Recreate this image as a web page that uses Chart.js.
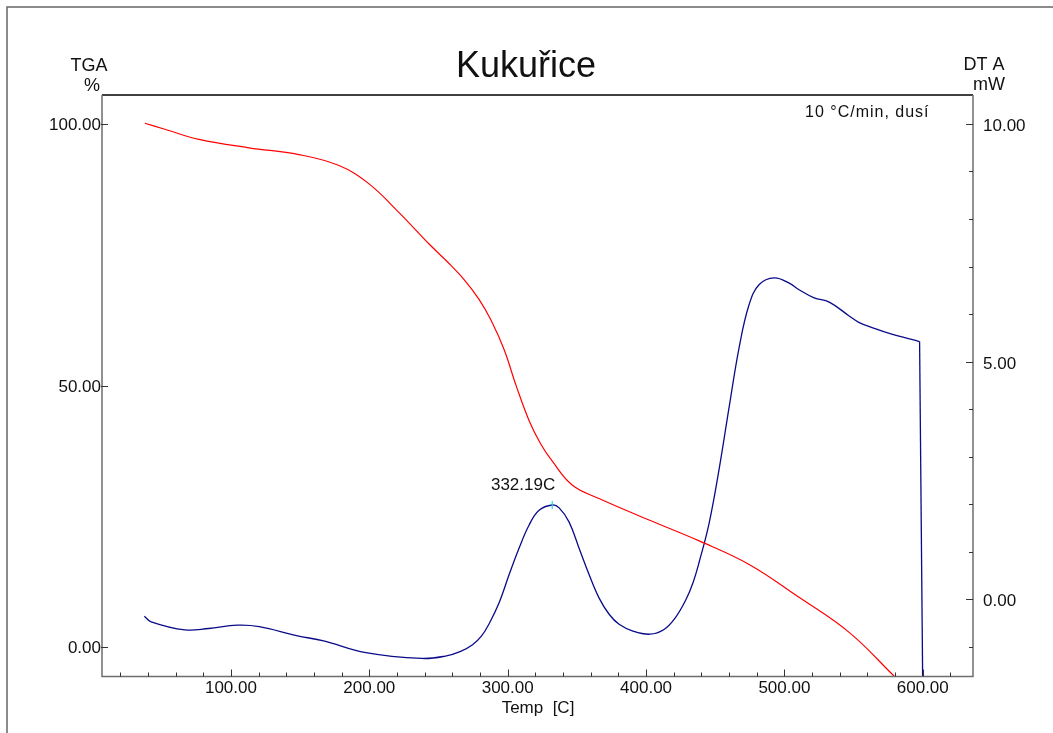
<!DOCTYPE html>
<html>
<head>
<meta charset="utf-8">
<script src="https://cdn.jsdelivr.net/npm/chart.js@4.4.1/dist/chart.umd.min.js"></script>
<style>
  html, body { margin: 0; padding: 0; background: #fff; }
  #wrap { width: 1053px; height: 733px; }
</style>
</head>
<body>
<div id="wrap"><canvas id="tgaChart" width="1053" height="733"></canvas></div>
<script>
/* ---------- data ---------- */
// TGA (red), temperature [C] -> mass [%]
const tgaTemp = [37.8, 51.6, 55.2, 76.9, 113.0, 149.2, 178.1, 199.8, 221.5, 243.2, 256.0, 268.5, 279.3, 288.0, 297.4, 306.1, 315.5, 324.0, 332.1, 346.6, 366.0, 402.2, 438.4, 474.5, 510.6, 546.8, 579.4];
const tgaMass = [100.2, 99.1, 98.8, 97.1, 95.5, 94.2, 92.1, 88.6, 83.1, 77.1, 73.8, 70.3, 66.5, 62.5, 56.9, 50.0, 43.3, 38.8, 35.6, 31.0, 28.4, 24.3, 20.3, 15.8, 9.5, 2.8, -5.6];

// DTA (navy), temperature [C] -> signal [mW]; the last point is the end-of-run drop
const dtaTemp = [37.4, 42.3, 66.7, 83.9, 104.6, 120.5, 147.4, 167.0, 196.4, 238.0, 255.0, 266.0, 274.6, 281.0, 286.6, 293.8, 301.0, 308.2, 315.5, 322.7, 332.19, 337.2, 344.4, 351.6, 358.9, 366.1, 373.3, 380.5, 391.0, 402.9, 413.0, 421.0, 428.7, 434.0, 438.4, 445.6, 452.9, 460.1, 467.3, 474.5, 481.8, 492.6, 503.5, 510.6, 521.5, 532.4, 546.8, 554.1, 564.9, 575.8, 597.7, 599.9];
const dtaSignal = [-0.36, -0.48, -0.65, -0.62, -0.55, -0.58, -0.77, -0.88, -1.12, -1.25, -1.20, -1.10, -0.96, -0.78, -0.52, -0.08, 0.51, 1.07, 1.56, 1.87, 1.98, 1.92, 1.62, 1.07, 0.51, 0.02, -0.32, -0.53, -0.68, -0.74, -0.64, -0.40, -0.02, 0.35, 0.78, 1.60, 2.75, 4.05, 5.30, 6.20, 6.62, 6.76, 6.65, 6.51, 6.34, 6.25, 5.96, 5.82, 5.70, 5.59, 5.42, -1.63];

const peakTemp = 332.19;
const peakLabel = '332.19C';

// axes
const xMajor = [100, 200, 300, 400, 500, 600];
const xLabels = ['100.00', '200.00', '300.00', '400.00', '500.00', '600.00'];
const tgaTicks = [0, 50, 100];
const tgaLabels = ['0.00', '50.00', '100.00'];
const dtaTicks = [0, 5, 10];
const dtaLabels = ['0.00', '5.00', '10.00'];

const FONT = '"Liberation Sans", Arial, Helvetica, sans-serif';

/* ---------- frame, ticks and texts ---------- */
const thermoFrame = {
  id: 'thermoFrame',
  beforeDraw(chart) {
    const c = chart.ctx;
    c.save();
    c.fillStyle = '#fff';
    c.fillRect(0, 0, chart.width, chart.height);
    // outer page frame
    c.strokeStyle = '#666';
    c.lineWidth = 1.5;
    c.beginPath();
    c.moveTo(7, 740); c.lineTo(7, 7); c.lineTo(1060, 7);
    c.stroke();
    c.restore();
  },
  afterDraw(chart) {
    const c = chart.ctx;
    const a = chart.chartArea;
    const xs = chart.scales.x, yl = chart.scales.y, yr = chart.scales.y2;
    c.save();

    // plot box
    c.lineWidth = 1.5;
    c.strokeStyle = '#000';
    c.beginPath(); c.moveTo(a.left, a.top); c.lineTo(a.right, a.top); c.stroke();
    c.strokeStyle = '#6e6e6e';
    c.beginPath();
    c.moveTo(a.left, a.top); c.lineTo(a.left, a.bottom); c.lineTo(a.right, a.bottom); c.lineTo(a.right, a.top);
    c.stroke();

    // x ticks (inward)
    c.strokeStyle = '#333';
    c.lineWidth = 1;
    for (let t = 20; t <= 620; t += 20) {
      const px = Math.round(xs.getPixelForValue(t)) + 0.5;
      const major = t % 100 === 0;
      c.beginPath(); c.moveTo(px, a.bottom); c.lineTo(px, a.bottom - (major ? 7 : 4)); c.stroke();
    }
    // left ticks
    tgaTicks.forEach(v => {
      const py = Math.round(yl.getPixelForValue(v)) + 0.5;
      c.beginPath(); c.moveTo(a.left - 1, py); c.lineTo(a.left + 6, py); c.stroke();
    });
    // right ticks
    for (let v = -1; v <= 10; v++) {
      const py = Math.round(yr.getPixelForValue(v)) + 0.5;
      const major = v % 5 === 0;
      c.beginPath(); c.moveTo(a.right, py); c.lineTo(a.right - (major ? 7 : 4), py); c.stroke();
    }

    // tick labels
    c.fillStyle = '#111';
    c.font = '17px ' + FONT;
    c.textBaseline = 'alphabetic';
    c.textAlign = 'center';
    xMajor.forEach((t, i) => c.fillText(xLabels[i], xs.getPixelForValue(t), 693));
    c.textAlign = 'right';
    tgaTicks.forEach((v, i) => c.fillText(tgaLabels[i], a.left - 1, yl.getPixelForValue(v) + 6));
    c.textAlign = 'left';
    dtaTicks.forEach((v, i) => c.fillText(dtaLabels[i], a.right + 10, yr.getPixelForValue(v) + 7));

    // axis titles
    c.textAlign = 'center';
    c.fillText('Temp  [C]', 538, 713);
    c.font = '18px ' + FONT;
    c.fillText('TGA', 89, 71);
    c.fillText('%', 92, 91);
    c.fillText('DT A', 984, 70);
    c.fillText('mW', 989, 90);

    // title
    c.font = '36px ' + FONT;
    c.fillText('Kukuřice', 526, 77);

    // conditions note
    c.font = '16px ' + FONT;
    c.textAlign = 'left';
    c.letterSpacing = '1px';
    c.fillText('10 °C/min, dusí', 805, 117);
    c.letterSpacing = '0px';

    // peak marker
    const pxp = xs.getPixelForValue(peakTemp);
    const idx = dtaTemp.indexOf(peakTemp);
    const pyp = yr.getPixelForValue(dtaSignal[idx]);
    c.strokeStyle = '#20d8e8';
    c.lineWidth = 1.2;
    c.beginPath(); c.moveTo(pxp, pyp - 4); c.lineTo(pxp, pyp + 4); c.stroke();
    c.font = '17px ' + FONT;
    c.textAlign = 'right';
    c.fillStyle = '#111';
    c.fillText(peakLabel, pxp + 3, pyp - 15);

    c.restore();
  }
};

const toPoints = (xsArr, ysArr) => xsArr.map((x, i) => ({ x, y: ysArr[i] }));
const dtaPoints = toPoints(dtaTemp, dtaSignal);

new Chart(document.getElementById('tgaChart'), {
  type: 'line',
  data: {
    datasets: [
      { label: 'TGA', data: toPoints(tgaTemp, tgaMass), yAxisID: 'y', borderColor: '#ff0000', borderWidth: 1.2, pointRadius: 0, fill: false, tension: 0.4 },
      { label: 'DTA', data: dtaPoints.slice(0, -1), yAxisID: 'y2', borderColor: '#0a0a8a', borderWidth: 1.3, pointRadius: 0, fill: false, tension: 0.4 },
      { label: 'DTA end', data: dtaPoints.slice(-2), yAxisID: 'y2', borderColor: '#0a0a8a', borderWidth: 1.3, pointRadius: 0, fill: false, tension: 0 },
    ],
  },
  options: {
    responsive: false, animation: false, devicePixelRatio: 1,
    layout: { padding: { left: 102, top: 95, right: 80, bottom: 56.5 } },
    scales: {
      x: { type: 'linear', min: 6.8, max: 636.3, display: false },
      y: { type: 'linear', min: -5.64, max: 105.6, display: false },
      y2: { type: 'linear', min: -1.63, max: 10.61, display: false },
    },
    plugins: { legend: { display: false }, tooltip: { enabled: false } },
  },
  plugins: [thermoFrame],
});
</script>
</body>
</html>
